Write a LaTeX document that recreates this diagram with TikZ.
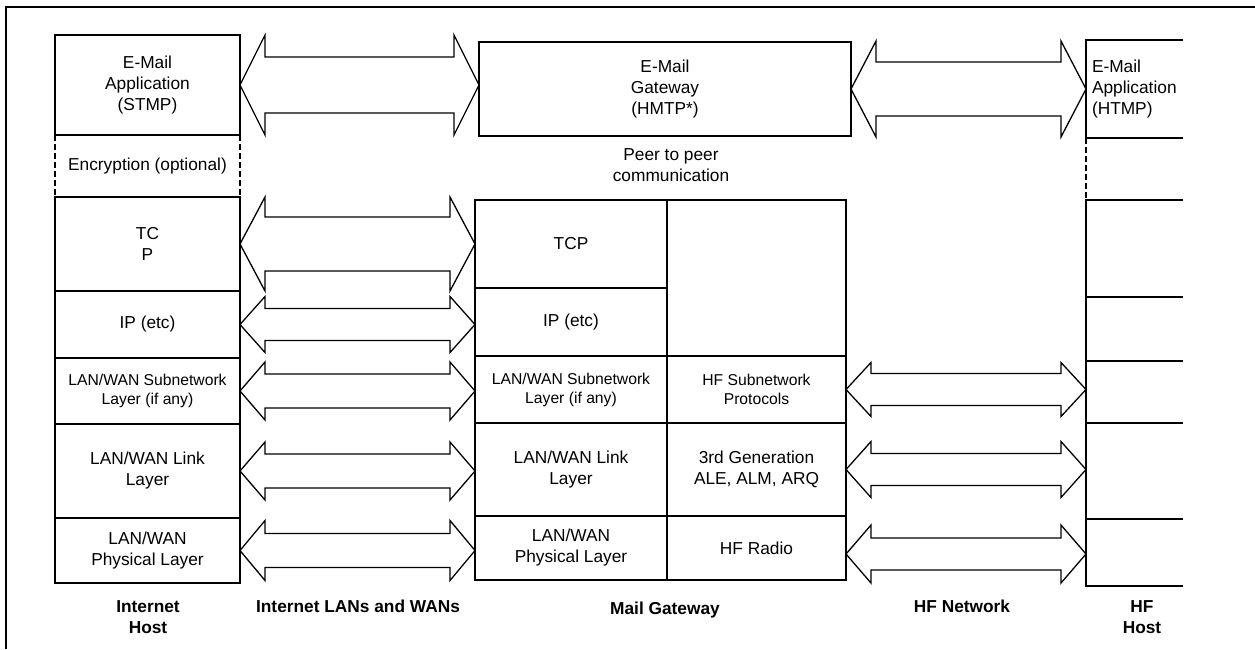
\documentclass[tikz,border=0pt]{standalone}
\usepackage{fontspec}
\setmainfont{Liberation Sans}
\usetikzlibrary{positioning,calc}

\newcommand{\boxfont}{\fontsize{17.3}{21}\selectfont}
\newcommand{\subfont}{\fontsize{15.7}{19}\selectfont}

% hollow two-headed arrow: tip, far node, shaft half, head half, head length
\newcommand{\fatarrow}[5]{%
  \coordinate (fa-l) at (#1);
  \coordinate (fa-r) at (fa-l -| #2);
  \draw[fat] (fa-l) -- ++(#5,-#4) -- ++(0,#4-#3) -- ($(fa-r)+(-#5,-#3)$) -- ++(0,#3-#4) -- (fa-r)
    -- ++(-#5,#4) -- ++(0,#3-#4) -- ($(fa-l)+(#5,#3)$) -- ++(0,#4-#3) -- cycle;
}

\begin{document}
\begin{tikzpicture}[x=1pt, y=-1pt,
    layer/.style={draw, line width=1.3pt, inner sep=0pt, outer sep=0pt, align=center, font=\boxfont},
    nobox/.style={layer, draw=none},
    ih/.style={minimum width=185pt},
    gwl/.style={minimum width=192pt},
    gwr/.style={minimum width=179pt},
    hf/.style={nobox, minimum width=97pt},
    fat/.style={line width=1.3pt},
    hline/.style={line width=1.3pt},
    dashedge/.style={hline, dash pattern=on 6pt off 3pt},
    caption/.style={align=center, font=\boxfont\bfseries}]
    \useasboundingbox (0,0) rectangle (1255,649);
    \draw[hline] (6,649) -- (6,7) -- (1255,7);

    % Internet host
    \node[layer, ih, anchor=north west, minimum height=100pt] (ihApp) at (55,35) {E-Mail\\Application\\(STMP)};
    \node[nobox, ih, below=0pt of ihApp, minimum height=62pt] (ihEnc) {Encryption (optional)};
    \node[layer, ih, below=0pt of ihEnc, minimum height=94pt] (ihTcp) {TC\\P};
    \node[layer, ih, below=0pt of ihTcp, minimum height=67pt] (ihIp) {IP (etc)};
    \node[layer, ih, below=0pt of ihIp, minimum height=66pt, font=\subfont] (ihSub) {LAN/WAN Subnetwork\\Layer (if any)};
    \node[layer, ih, below=0pt of ihSub, minimum height=94pt] (ihLink) {LAN/WAN Link\\Layer};
    \node[layer, ih, below=0pt of ihLink, minimum height=65pt] (ihPhy) {LAN/WAN\\Physical Layer};
    \draw[dashedge] (ihEnc.north west) -- (ihEnc.south west) (ihEnc.north east) -- (ihEnc.south east);

    % mail gateway
    \node[layer, anchor=north west, minimum width=372pt, minimum height=94pt] (gwApp) at (479,42) {E-Mail\\Gateway\\(HMTP*)};
    \node[nobox] (peer) at (671,165) {Peer to peer\\communication};
    \node[layer, gwl, anchor=north west, minimum height=88pt] (gwTcp) at (475,200) {TCP};
    \node[layer, gwl, below=0pt of gwTcp, minimum height=68pt] (gwIp) {IP (etc)};
    \node[layer, gwl, below=0pt of gwIp, minimum height=67pt, font=\subfont] (gwSub) {LAN/WAN Subnetwork\\Layer (if any)};
    \node[layer, gwl, below=0pt of gwSub, minimum height=93pt] (gwLink) {LAN/WAN Link\\Layer};
    \node[layer, gwl, below=0pt of gwLink, minimum height=64pt] (gwPhy) {LAN/WAN\\Physical Layer};
    \node[layer, gwr, anchor=north west, minimum height=156pt] (gwBlank) at (667,200) {};
    \node[layer, gwr, below=0pt of gwBlank, minimum height=67pt, font=\subfont] (gwHfSub) {HF Subnetwork\\Protocols};
    \node[layer, gwr, below=0pt of gwHfSub, minimum height=93pt] (gwAle) {3rd Generation\\ALE, ALM, ARQ};
    \node[layer, gwr, below=0pt of gwAle, minimum height=64pt] (gwRadio) {HF Radio};

    % HF host (open on the right)
    \node[hf, anchor=north west, minimum height=98pt, inner xsep=6pt, text width=85pt, align=left] (hfApp) at (1086,40) {E-Mail\\Application\\(HTMP)};
    \node[hf, below=0pt of hfApp, minimum height=62pt] (hfEnc) {};
    \node[hf, below=0pt of hfEnc, minimum height=97pt] (hfTcp) {};
    \node[hf, below=0pt of hfTcp, minimum height=64pt] (hfIp) {};
    \node[hf, below=0pt of hfIp, minimum height=62pt] (hfSub) {};
    \node[hf, below=0pt of hfSub, minimum height=96pt] (hfLink) {};
    \node[hf, below=0pt of hfLink, minimum height=67pt] (hfPhy) {};
    \foreach \n in {hfApp,hfTcp,hfIp,hfSub,hfLink,hfPhy}
        \draw[hline] (\n.north east) -- (\n.north west) -- (\n.south west) -- (\n.south east);
    \draw[dashedge] (hfEnc.north west) -- (hfEnc.south west);

    % Internet LANs and WANs
    \fatarrow{ihApp.east}{gwApp.west}{28}{50}{25}
    \fatarrow{ihTcp.east}{gwTcp.west}{27}{47}{25}
    \fatarrow{ihIp.east}{gwIp.west}{16}{28}{25}
    \fatarrow{ihSub.east}{gwSub.west}{17}{29}{25}
    \fatarrow{ihLink.east}{gwLink.west}{17}{29}{25}
    \fatarrow{ihPhy.east}{gwPhy.west}{17}{30}{25}
    % HF network
    \fatarrow{gwApp.east}{hfApp.west}{27}{48}{25}
    \fatarrow{gwHfSub.east}{hfSub.west}{16}{27}{25}
    \fatarrow{gwAle.east}{hfLink.west}{16}{28}{25}
    \fatarrow{$(gwRadio.east)+(0,6)$}{hfPhy.west}{16}{29}{25}

    \node[caption] (ihLabel) at (148,617) {Internet\\Host};
    \node[caption] (lanLabel) at (358,606) {Internet LANs and WANs};
    \node[caption] (gwLabel) at (665,610) {Mail Gateway};
    \node[caption] (hfNetLabel) at (962,606) {HF Network};
    \node[caption] (hfLabel) at (1142,617) {HF\\Host};
\end{tikzpicture}
\end{document}
